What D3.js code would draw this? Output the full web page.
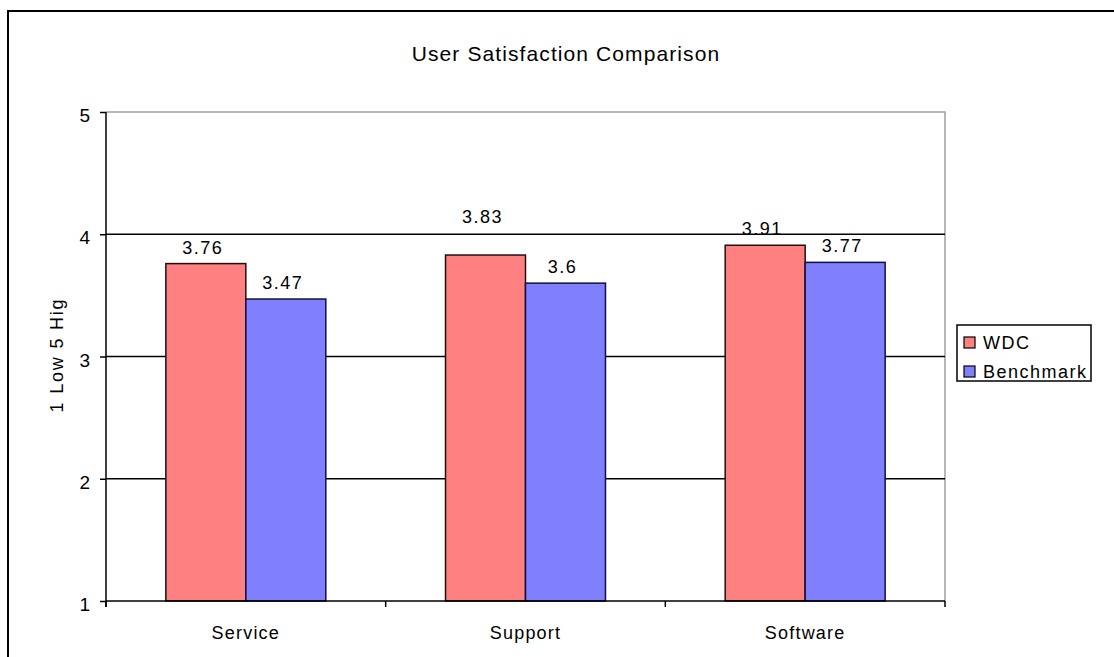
<!DOCTYPE html>
<html>
<head>
<meta charset="utf-8">
<script src="https://cdn.jsdelivr.net/npm/d3@7"></script>
<style>
  body { margin:0; background:#fff; }
  text { font-family: "Liberation Sans", Arial, sans-serif; fill:#000; }
</style>
</head>
<body>
<div id="chart-area"></div>
<script>
// data
const categories = ["Service", "Support", "Software"];
const seriesNames = ["WDC", "Benchmark"];
const wdcValues = [3.76, 3.83, 3.91];
const benchmarkValues = [3.47, 3.6, 3.77];
const yTicks = [1, 2, 3, 4, 5];
const chartTitle = "User Satisfaction Comparison";
const yTitle = "1 Low 5 Hig";

const colors = ['#FF8080', '#8080FF'];

const W = 1114, H = 657;
const plot = {left:106, right:945, top:112, bottom:601};

var svg = d3.select("#chart-area").append("svg")
    .attr("width", W)
    .attr("height", H);

// outer chart border (runs off the right and bottom edge)
svg.append("rect")
    .attr("x", 8).attr("y", 11)
    .attr("width", W + 20).attr("height", H + 20)
    .attr("fill", "none").attr("stroke", "#000").attr("stroke-width", 2);

var x0 = d3.scaleBand()
    .domain(categories)
    .range([plot.left, plot.right])
    .paddingInner(0.428)
    .paddingOuter(0.214);

var x1 = d3.scaleBand()
    .domain(seriesNames)
    .range([0, x0.bandwidth()])
    .padding(0);

var y = d3.scaleLinear()
    .domain([1, 5])
    .range([plot.bottom, plot.top]);

// plot area frame: top and right in grey
svg.append("path")
    .attr("d", "M" + plot.left + "," + plot.top + "H" + plot.right + "V" + plot.bottom)
    .attr("fill", "none").attr("stroke", "#a0a0a0").attr("stroke-width", 1.5);

// gridlines
svg.append("g")
    .selectAll("line")
    .data(yTicks.filter(d => d > 1 && d < 5))
    .enter().append("line")
    .attr("x1", plot.left).attr("x2", plot.right)
    .attr("y1", d => y(d)).attr("y2", d => y(d))
    .attr("stroke", "#000").attr("stroke-width", 1.5);

var table = categories.map((c, i) => ({cat:c, vals:[wdcValues[i], benchmarkValues[i]]}));

// bars
var groups = svg.append("g").selectAll("g")
    .data(table)
    .enter().append("g")
    .attr("transform", d => "translate(" + x0(d.cat) + ",0)");

groups.selectAll("rect")
    .data(d => d.vals.map((v, j) => ({name:seriesNames[j], v:v, j:j})))
    .enter().append("rect")
    .attr("x", d => x1(d.name))
    .attr("y", d => y(d.v))
    .attr("width", x1.bandwidth())
    .attr("height", d => y(1) - y(d.v))
    .attr("fill", d => colors[d.j])
    .attr("stroke", d => d.j == 0 ? "#201010" : "#101040")
    .attr("stroke-width", 1.5);

// value labels (Support/WDC label sits higher in the original)
groups.selectAll("text")
    .data(d => d.vals.map((v, j) => ({name:seriesNames[j], v:v, j:j, cat:d.cat})))
    .enter().append("text")
    .attr("x", d => x1(d.name) + x1.bandwidth()/2 - 3)
    .attr("y", d => y(d.v) - ((d.cat == "Support" && d.j == 0) ? 32 : 10))
    .attr("text-anchor", "middle")
    .style("font-size", "18px")
    .style("letter-spacing", "1.5px")
    .text(d => d.v);

// y axis
var yAxis = svg.append("g")
    .attr("transform", "translate(" + plot.left + ",0)")
    .call(d3.axisLeft(y).tickValues(yTicks).tickSize(6).tickPadding(10).tickFormat(d3.format("d")));
yAxis.select(".domain").attr("stroke", "#000").attr("stroke-width", 1.5)
    .attr("d", "M0," + plot.top + "V" + (plot.bottom + 6));
yAxis.selectAll(".tick line").attr("stroke", "#000").attr("stroke-width", 1.5);
yAxis.selectAll(".tick text")
    .attr("dy", "0.5em")
    .style("font-size", "19px")
    .style("font-family", "'Liberation Sans', Arial, sans-serif");

// x axis: line, boundary ticks, centred labels
svg.append("line")
    .attr("x1", plot.left).attr("x2", plot.right)
    .attr("y1", plot.bottom).attr("y2", plot.bottom)
    .attr("stroke", "#000").attr("stroke-width", 1.5);

var bounds = d3.range(categories.length + 1).map(i => plot.left + i * x0.step());
svg.append("g").selectAll("line")
    .data(bounds)
    .enter().append("line")
    .attr("x1", d => d).attr("x2", d => d)
    .attr("y1", plot.bottom).attr("y2", plot.bottom + 6)
    .attr("stroke", "#000").attr("stroke-width", 1.5);

svg.append("g").selectAll("text")
    .data(categories)
    .enter().append("text")
    .attr("x", d => x0(d) + x0.bandwidth()/2)
    .attr("y", 639)
    .attr("text-anchor", "middle")
    .style("font-size", "18px")
    .style("letter-spacing", "1.2px")
    .text(d => d);

// titles
svg.append("text")
    .attr("x", 566).attr("y", 61)
    .attr("text-anchor", "middle")
    .style("font-size", "21px")
    .style("letter-spacing", "1.1px")
    .text(chartTitle);

svg.append("text")
    .attr("transform", "translate(63,355) rotate(-90)")
    .attr("text-anchor", "middle")
    .style("font-size", "18px")
    .style("letter-spacing", "1.8px")
    .text(yTitle);

// legend
var legend = svg.append("g").attr("transform", "translate(957,325)");
legend.append("rect")
    .attr("width", 134).attr("height", 56)
    .attr("fill", "#fff").attr("stroke", "#000").attr("stroke-width", 1.5);

var items = legend.selectAll("g.item")
    .data(seriesNames)
    .enter().append("g")
    .attr("class", "item")
    .attr("transform", (d, i) => "translate(7," + (12 + i * 29) + ")");
items.append("rect")
    .attr("width", 11).attr("height", 11)
    .attr("fill", (d, i) => colors[i])
    .attr("stroke", "#000").attr("stroke-width", 1.2);
items.append("text")
    .attr("x", 19).attr("y", 12)
    .style("font-size", "18px")
    .style("letter-spacing", "1.5px")
    .text(d => d);
</script>
</body>
</html>
